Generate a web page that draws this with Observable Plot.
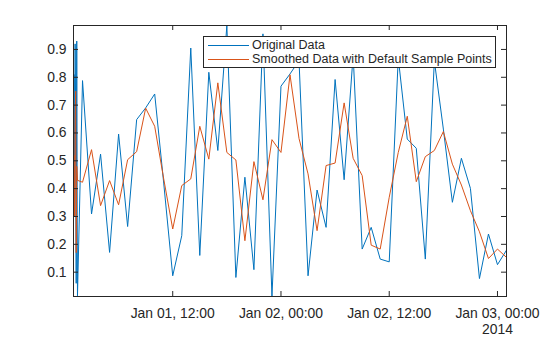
<!DOCTYPE html>
<html><head><meta charset="utf-8">
<script src="https://cdn.jsdelivr.net/npm/d3@7"></script>
<script src="https://cdn.jsdelivr.net/npm/@observablehq/plot@0.6"></script>
<style>
body{margin:0;background:#fff;}
#wrap{position:relative;width:560px;height:337px;font-family:"Liberation Sans",Arial,sans-serif;}
#legend{position:absolute;left:203px;top:36px;width:293px;height:32px;box-sizing:border-box;background:#fff;border:1px solid #262626;}
.sw{position:absolute;left:4px;width:41px;height:1px;}
.lt{position:absolute;left:48px;font-size:12.5px;line-height:14px;color:#262626;white-space:nowrap;}
</style></head><body><div id="wrap"></div>
<script>
// hours since 2014-01-01 00:00 UTC
const hours = [1.00,1.06,1.12,1.18,1.24,1.30,1.36,1.44,
  2,3,4,5,6,7,8,9,10,11,12,13,14,15,16,17,18,19,20,21,22,23,24,25,26,27,28,29,30,31,32,33,34,35,36,37,38,39,40,41,42,43,44,45,46,47,48,49];
const original = [0.25,0.81,0.30,0.92,0.66,0.06,0.93,0.015,
  0.788,0.309,0.524,0.171,0.596,0.264,0.648,0.690,0.740,0.420,0.087,0.231,0.905,0.160,0.818,0.537,0.986,0.081,0.441,0.109,0.956,0.013,0.768,0.812,0.860,0.087,0.395,0.261,0.792,0.432,0.880,0.183,0.261,0.147,0.137,0.870,0.578,0.545,0.147,0.860,0.614,0.351,0.509,0.401,0.077,0.237,0.127,0.179];
const smoothed = [0.44,0.52,0.30,0.66,0.75,0.17,0.48,0.43,
  0.423,0.540,0.339,0.429,0.342,0.504,0.533,0.689,0.624,0.435,0.255,0.411,0.435,0.624,0.506,0.780,0.530,0.503,0.213,0.497,0.360,0.576,0.530,0.809,0.580,0.453,0.249,0.483,0.492,0.708,0.509,0.447,0.197,0.183,0.369,0.530,0.660,0.425,0.515,0.537,0.605,0.488,0.413,0.321,0.245,0.149,0.183,0.153];
const xTickHours = [12, 24, 36, 48];
const yTicks = [0.1,0.2,0.3,0.4,0.5,0.6,0.7,0.8,0.9];
const yDomain = [0.0126, 0.986];
const seriesNames = ["Original Data", "Smoothed Data with Default Sample Points"];
const colors = ["#0072BD", "#D95319"];

const base = Date.UTC(2014,0,1);
const toDate = h => new Date(base + h*3600e3);
const data = hours.map((h,i)=>({t: toDate(h), original: original[i], smoothed: smoothed[i]}));
const xTicks = xTickHours.map(toDate);
const fmt = d3.utcFormat("%b %d, %H:%M");
const xLabel = (d,i) => fmt(d) + (i === xTicks.length-1 ? "\n" + d3.utcFormat("%Y")(d) : "");

const W=560,H=337, mL=73, mR=54, mT=25, mB=41;
const innerH = H-mT-mB, innerW = W-mL-mR, tk = 5;
const ink = "#262626";
const fs = 13.9;

const chart = Plot.plot({
  width: W, height: H, marginLeft: mL, marginRight: mR, marginTop: mT, marginBottom: mB,
  style: {fontFamily: '"Liberation Sans", Arial, sans-serif', fontSize: fs + "px", color: ink, background: "white"},
  x: {type: "utc", domain: [toDate(hours[0]), toDate(hours[hours.length-1])], axis: null},
  y: {domain: yDomain},
  marks: [
    Plot.lineY(data, {x: "t", y: "original", stroke: colors[0], strokeWidth: 1, clip: true}),
    Plot.lineY(data, {x: "t", y: "smoothed", stroke: colors[1], strokeWidth: 1, clip: true}),
    Plot.frame({stroke: ink, strokeWidth: 1}),
    Plot.ruleX(xTicks, {insetTop: innerH - tk, stroke: ink}),
    Plot.ruleX(xTicks, {insetBottom: innerH - tk, stroke: ink}),
    Plot.ruleY(yTicks, {insetRight: innerW - tk, stroke: ink}),
    Plot.ruleY(yTicks, {insetLeft: innerW - tk, stroke: ink}),
    Plot.axisY(yTicks, {tickSize: 0, tickPadding: 7, tickFormat: d => d.toFixed(1), fontSize: fs, fill: ink}),
    Plot.text(xTicks, {x: d => d, frameAnchor: "bottom", dy: 9.5, lineAnchor: "top", text: xLabel, lineHeight: 1.17, fontSize: fs, fill: ink})
  ]
});
const wrap = document.getElementById("wrap");
wrap.appendChild(chart);
const leg = document.createElement("div");
leg.id = "legend";
seriesNames.forEach((name,i)=>{
  const y = 8 + i*14.3;
  const sw = document.createElement("div");
  sw.className = "sw"; sw.style.top = y + "px"; sw.style.background = colors[i];
  const lt = document.createElement("div");
  lt.className = "lt"; lt.style.top = (y-7) + "px"; lt.textContent = name;
  leg.appendChild(sw); leg.appendChild(lt);
});
wrap.appendChild(leg);
</script></body></html>
